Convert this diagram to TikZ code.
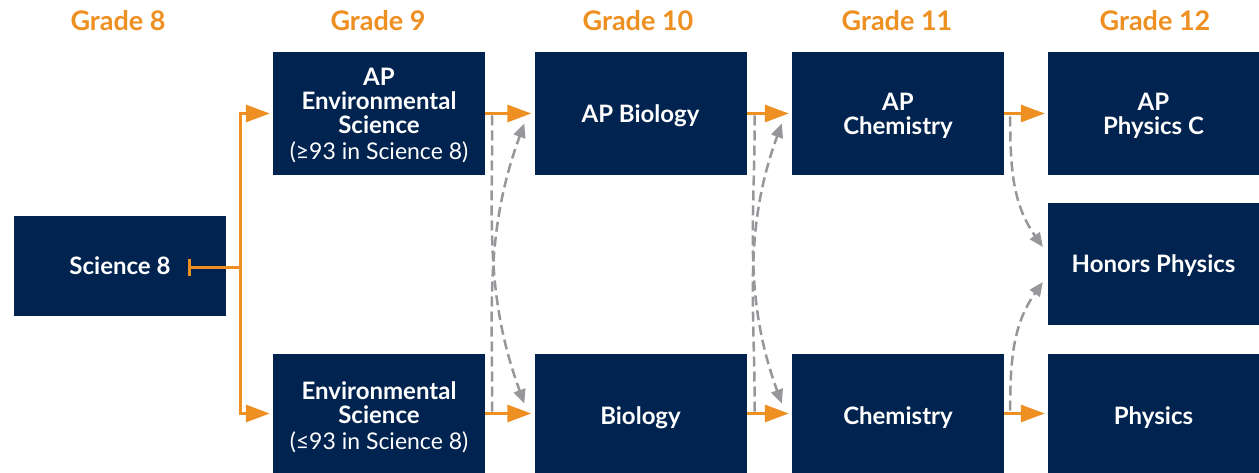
\documentclass[tikz,border=0pt]{standalone}
\usepackage{fontspec}
\setmainfont{Lato}
\usetikzlibrary{arrows.meta}

\definecolor{navy}{RGB}{0,35,80}
\definecolor{gold}{RGB}{238,143,33}
\definecolor{ash}{RGB}{150,150,155}

\tikzset{
  course/.style={fill=navy, text=white, align=center, inner sep=0pt,
    font=\fontsize{24}{24}\selectfont\bfseries, text depth=0pt,
    minimum width=212pt, minimum height=123pt},
  grade/.style={text=gold, font=\fontsize{27}{27}\selectfont\bfseries},
  track/.style={gold, line width=3pt, shorten >=3pt,
    -{Triangle[length=24pt,width=17pt]}},
  alt/.style={ash, line width=2.5pt, dash pattern=on 10pt off 5pt,
    -{Triangle[length=14pt,width=12pt]}}
}
\newcommand{\req}[1]{{\normalfont\fontsize{23}{24}\selectfont #1}}

\begin{document}
\begin{tikzpicture}[x=1pt,y=1pt]
  \useasboundingbox (0,0) rectangle (1259,-473);

  % grade headings
  \node[grade] (g8) at (118,-20.5) {Grade 8};
  \node[grade] (g9) at (378,-20.5) {Grade 9};
  \node[grade] (g10) at (638,-20.5) {Grade 10};
  \node[grade] (g11) at (897,-20.5) {Grade 11};
  \node[grade] (g12) at (1155,-20.5) {Grade 12};

  % courses
  \node[course, minimum height=100pt] (sci8) at (120,-266) {Science 8};
  \node[course] (ape) at (379,-113.5) {AP\\Environmental\\Science\\[2pt]\req{(≥93 in Science 8)}};
  \node[course] (env) at (379,-415.5) {Environmental\\Science\\[2pt]\req{(≤93 in Science 8)}};
  \node[course] (apbio) at (640.5,-113.5) {AP Biology};
  \node[course] (bio) at (640.5,-415.5) {Biology};
  \node[course] (apchem) at (898,-113.5) {AP\\Chemistry};
  \node[course] (chem) at (898,-415.5) {Chemistry};
  \node[course, minimum width=211pt] (apphys) at (1153.5,-113.5) {AP\\Physics C};
  \node[course, minimum width=211pt, minimum height=122pt] (honors) at (1153.5,-264) {Honors Physics};
  \node[course, minimum width=211pt] (phys) at (1153.5,-415.5) {Physics};

  % switching between tracks
  \draw[alt] ([xshift=7pt,yshift=-2pt]ape.east) to[out=-90,in=110] ([xshift=-10pt,yshift=12pt]bio.west);
  \draw[alt] ([xshift=7pt,yshift=4pt]env.east) to[out=90,in=-110] ([xshift=-10pt,yshift=-10pt]apbio.west);
  \draw[alt] ([xshift=8pt,yshift=-2pt]apbio.east) to[out=-90,in=110] ([xshift=-10pt,yshift=12pt]chem.west);
  \draw[alt] ([xshift=8pt,yshift=4pt]bio.east) to[out=90,in=-110] ([xshift=-10pt,yshift=-10pt]apchem.west);
  \draw[alt] ([xshift=6pt,yshift=-3pt]apchem.east) to[out=-90,in=125] ([xshift=-5pt,yshift=17pt]honors.west);
  \draw[alt] ([xshift=6pt,yshift=5pt]chem.east) to[out=90,in=-125] ([xshift=-5pt,yshift=-18pt]honors.west);

  % main tracks
  \coordinate (s8out) at ([xshift=68pt,yshift=-2pt]sci8.center);
  \coordinate (fork) at ([xshift=120pt,yshift=-2pt]sci8.center);
  \draw[gold, line width=3pt, {Bar[width=17pt]}-] (s8out) -- (fork);
  \draw[track] (fork) |- ([yshift=2pt]env.west);
  \draw[track] (fork) |- (ape.west);
  \draw[track] (ape.east) -- (apbio.west);
  \draw[track] ([yshift=2pt]env.east) -- ([yshift=2pt]bio.west);
  \draw[track] (apbio.east) -- (apchem.west);
  \draw[track] ([yshift=2pt]bio.east) -- ([yshift=2pt]chem.west);
  \draw[track] (apchem.east) -- (apphys.west);
  \draw[track] ([yshift=2pt]chem.east) -- ([yshift=2pt]phys.west);
\end{tikzpicture}
\end{document}
